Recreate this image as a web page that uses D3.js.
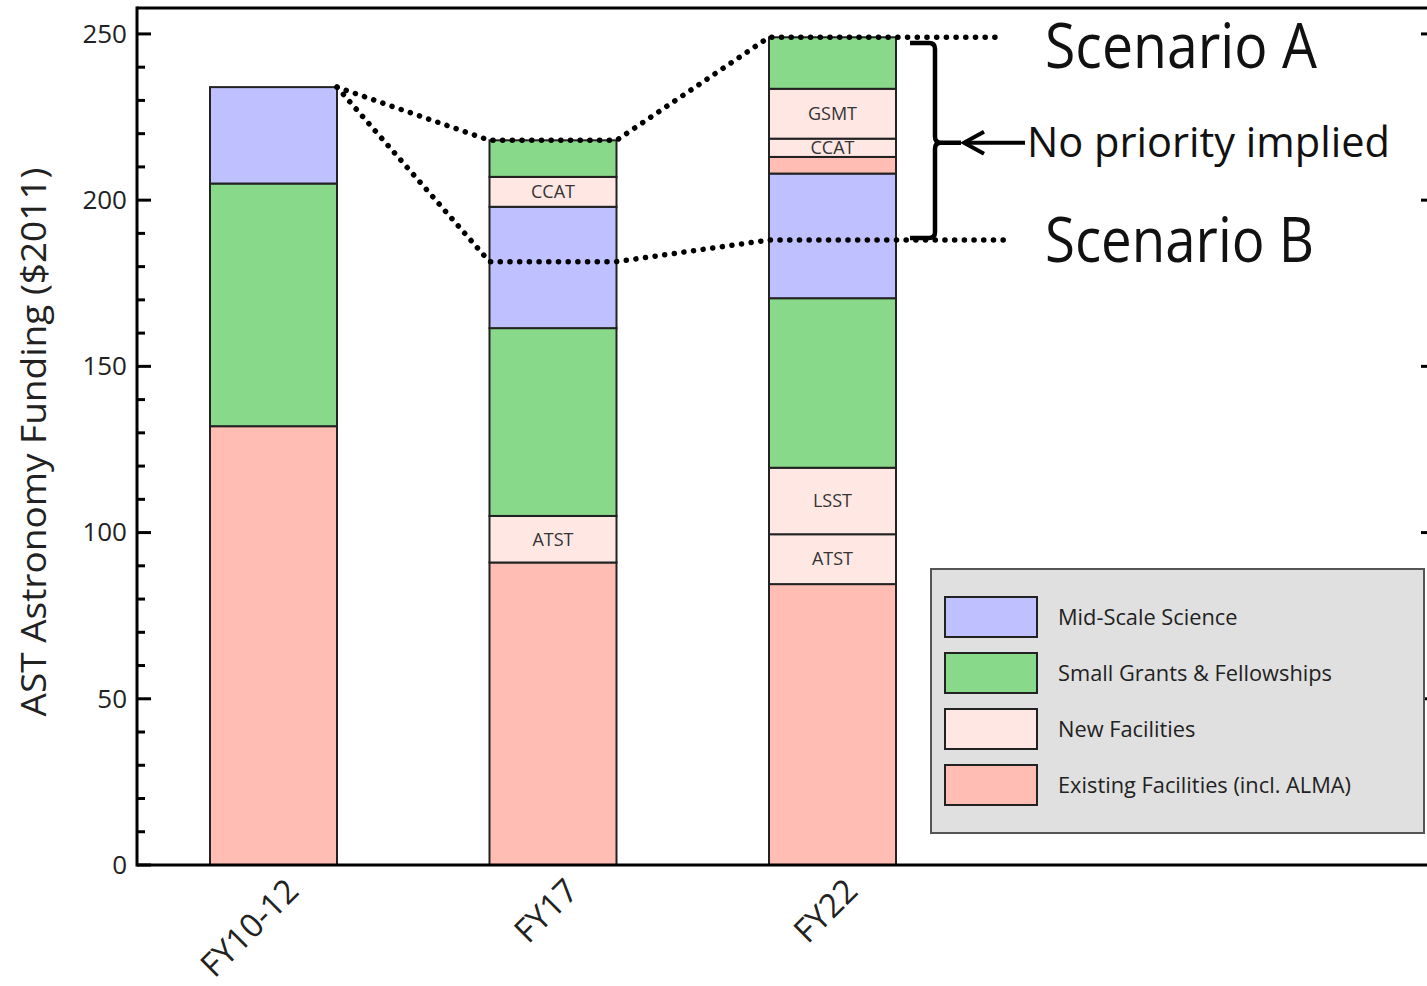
<!DOCTYPE html>
<html><head><meta charset="utf-8">
<script src="https://cdn.jsdelivr.net/npm/d3@7"></script>
<style>html,body{margin:0;padding:0;background:#fff;}svg{display:block;}</style>
</head><body>
<svg id="chart" width="1427" height="986"></svg>
<script>
// ---- data ----
const categories = ["FY10-12", "FY17", "FY22"];
const seriesNames = ["Mid-Scale Science", "Small Grants & Fellowships", "New Facilities", "Existing Facilities (incl. ALMA)"];
const seriesKeys = ["mid", "small", "new", "existing"];
const seriesColors = ["#bfc0ff", "#88d98a", "#ffe8e3", "#ffbdb3"];

const fy1012Values = [132, 73, 29];
const fy1012Kinds  = ["existing", "small", "mid"];
const fy1012Labels = ["", "", ""];

const fy17Values = [91, 14, 56.5, 36.5, 9, 11];
const fy17Kinds  = ["existing", "new", "small", "mid", "new", "small"];
const fy17Labels = ["", "ATST", "", "", "CCAT", ""];

const fy22Values = [84.5, 15, 20, 51, 37.5, 5, 5.5, 15, 15.5];
const fy22Kinds  = ["existing", "new", "new", "small", "mid", "existing", "new", "new", "small"];
const fy22Labels = ["", "ATST", "LSST", "", "", "", "CCAT", "GSMT", ""];

const scenarioA = [234, 218, 249];
const scenarioB = [234, 181.5, 188];

const yTicksMajor = [0, 50, 100, 150, 200, 250];
const yTitle = "AST Astronomy Funding ($2011)";

// ---- layout ----
const svg = d3.select("#chart");
const X0 = 137, Y0 = 865, YTOP = 8, XR = 1428;
const y = d3.scaleLinear().domain([0, 257.8]).range([Y0, YTOP]);
const x = d3.scaleBand().domain(categories).range([210, 896]).paddingInner(0.5456).paddingOuter(0);
const color = d3.scaleOrdinal().domain(seriesKeys).range(seriesColors);
const FONT = "'Open Sans', 'DejaVu Sans', sans-serif";

// build segments
const bars = [
  {cat: categories[0], values: fy1012Values, kinds: fy1012Kinds, labels: fy1012Labels},
  {cat: categories[1], values: fy17Values, kinds: fy17Kinds, labels: fy17Labels},
  {cat: categories[2], values: fy22Values, kinds: fy22Kinds, labels: fy22Labels}
];
const segs = [];
bars.forEach(b => {
  let acc = 0;
  b.values.forEach((v, i) => {
    segs.push({cat: b.cat, y0: acc, y1: acc + v, kind: b.kinds[i], label: b.labels[i]});
    acc += v;
  });
});

const g = svg.append("g");
g.selectAll("rect.seg").data(segs).enter().append("rect")
  .attr("class", "seg")
  .attr("x", d => x(d.cat))
  .attr("width", x.bandwidth())
  .attr("y", d => y(d.y1))
  .attr("height", d => y(d.y0) - y(d.y1))
  .attr("fill", d => color(d.kind))
  .attr("stroke", "#222").attr("stroke-width", 2);

g.selectAll("text.seglab").data(segs.filter(d => d.label)).enter().append("text")
  .attr("x", d => x(d.cat) + x.bandwidth() / 2)
  .attr("y", d => (y(d.y0) + y(d.y1)) / 2)
  .attr("dy", "0.35em")
  .attr("text-anchor", "middle")
  .attr("font-family", FONT).attr("font-size", 18)
  .attr("fill", "#333")
  .text(d => d.label);

// ---- frame and axes ----
svg.append("line").attr("x1", X0).attr("x2", XR).attr("y1", YTOP).attr("y2", YTOP)
  .attr("stroke", "#000").attr("stroke-width", 3);
const yAxis = d3.axisLeft(y).tickValues(d3.range(0, 251, 10))
  .tickSize(0).tickFormat(d => yTicksMajor.includes(d) ? d : "");
const ya = svg.append("g").attr("transform", `translate(${X0},0)`).call(yAxis);
ya.select(".domain").remove();
ya.selectAll("text").attr("font-family", FONT).attr("font-size", 26).attr("fill", "#222").attr("x", -10);
svg.append("g").selectAll("line").data(d3.range(0, 251, 10)).enter().append("line")
  .attr("x1", X0).attr("x2", d => X0 + (yTicksMajor.includes(d) ? 14 : 8))
  .attr("y1", d => y(d)).attr("y2", d => y(d))
  .attr("stroke", "#000").attr("stroke-width", 3);
svg.append("g").selectAll("line").data(yTicksMajor.slice(1)).enter().append("line")
  .attr("x1", XR - 7).attr("x2", XR)
  .attr("y1", d => y(d)).attr("y2", d => y(d))
  .attr("stroke", "#000").attr("stroke-width", 3);
svg.append("line").attr("x1", X0).attr("x2", X0).attr("y1", YTOP - 1.5).attr("y2", Y0 + 1.5)
  .attr("stroke", "#000").attr("stroke-width", 3);
svg.append("line").attr("x1", X0).attr("x2", XR).attr("y1", Y0).attr("y2", Y0)
  .attr("stroke", "#000").attr("stroke-width", 3);

// x labels
svg.append("g").selectAll("text").data(categories).enter().append("text")
  .attr("transform", d => `translate(${x(d) + x.bandwidth() / 2 + 27},${Y0 + 28}) rotate(-45)`)
  .attr("text-anchor", "end")
  .attr("font-family", FONT).attr("font-size", 33).attr("fill", "#222")
  .text(d => d);

// y title
svg.append("text")
  .attr("transform", `translate(46,442) rotate(-90)`)
  .attr("text-anchor", "middle")
  .attr("font-family", FONT).attr("font-size", 34).attr("fill", "#222")
  .attr("textLength", 549).attr("lengthAdjust", "spacingAndGlyphs")
  .text(yTitle);

// ---- scenario dotted lines ----
function scenarioPts(vals, extX) {
  const pts = [];
  vals.forEach((v, i) => {
    const c = categories[i];
    if (i > 0) pts.push([x(c), y(v)]);
    pts.push([x(c) + x.bandwidth(), y(v)]);
  });
  pts.push([extX, y(vals[vals.length - 1])]);
  return pts;
}
const line = d3.line();
[[scenarioA, 1000], [scenarioB, 1010]].forEach(([vals, ex]) => {
  svg.append("path").attr("d", line(scenarioPts(vals, ex)))
    .attr("fill", "none").attr("stroke", "#000").attr("stroke-width", 5.5)
    .attr("stroke-linecap", "round").attr("stroke-dasharray", "0.1 9.6");
});

// ---- brace & annotation ----
const bTop = y(247.3), bBot = y(188.6), bMid = y(217.3);
const bx = 910, bv = 935;
svg.append("path")
  .attr("d", `M${bx},${bTop} L${bv - 6},${bTop} Q${bv},${bTop} ${bv},${bTop + 6} L${bv},${bMid - 6} Q${bv},${bMid} ${bv + 6},${bMid} L${bv + 26},${bMid}
             M${bv + 6},${bMid} Q${bv},${bMid} ${bv},${bMid + 6} L${bv},${bBot - 6} Q${bv},${bBot} ${bv - 6},${bBot} L${bx},${bBot}`)
  .attr("fill", "none").attr("stroke", "#000").attr("stroke-width", 4.5);
// arrow
svg.append("line").attr("x1", 1025).attr("x2", 964).attr("y1", bMid).attr("y2", bMid)
  .attr("stroke", "#000").attr("stroke-width", 4);
svg.append("path").attr("d", `M${984},${bMid - 11} L${964},${bMid} L${984},${bMid + 11}`)
  .attr("fill", "none").attr("stroke", "#000").attr("stroke-width", 4).attr("stroke-linejoin", "miter");

svg.append("text").attr("x", 1045).attr("y", 68).attr("font-family", FONT).attr("font-size", 62)
  .attr("textLength", 272).attr("lengthAdjust", "spacingAndGlyphs").attr("fill", "#111").text("Scenario A");
svg.append("text").attr("x", 1045).attr("y", 262).attr("font-family", FONT).attr("font-size", 62)
  .attr("textLength", 269).attr("lengthAdjust", "spacingAndGlyphs").attr("fill", "#111").text("Scenario B");
svg.append("text").attr("x", 1027).attr("y", 157).attr("font-family", FONT).attr("font-size", 42)
  .attr("textLength", 363).attr("lengthAdjust", "spacingAndGlyphs").attr("fill", "#111").text("No priority implied");

// ---- legend ----
const leg = svg.append("g");
leg.append("rect").attr("x", 931).attr("y", 569).attr("width", 493).attr("height", 264)
  .attr("fill", "#e0e0e0").attr("stroke", "#555").attr("stroke-width", 2);
const li = leg.selectAll("g.item").data(seriesKeys).enter().append("g")
  .attr("transform", (d, i) => `translate(0,${597 + i * 56})`);
li.append("rect").attr("x", 945).attr("y", 0).attr("width", 92).attr("height", 40)
  .attr("fill", d => color(d)).attr("stroke", "#222").attr("stroke-width", 2);
li.append("text").attr("x", 1058).attr("y", 20).attr("dy", "0.35em")
  .attr("font-family", FONT).attr("font-size", 21.8).attr("fill", "#222")
  .text((d, i) => seriesNames[i]);
</script>
</body></html>
